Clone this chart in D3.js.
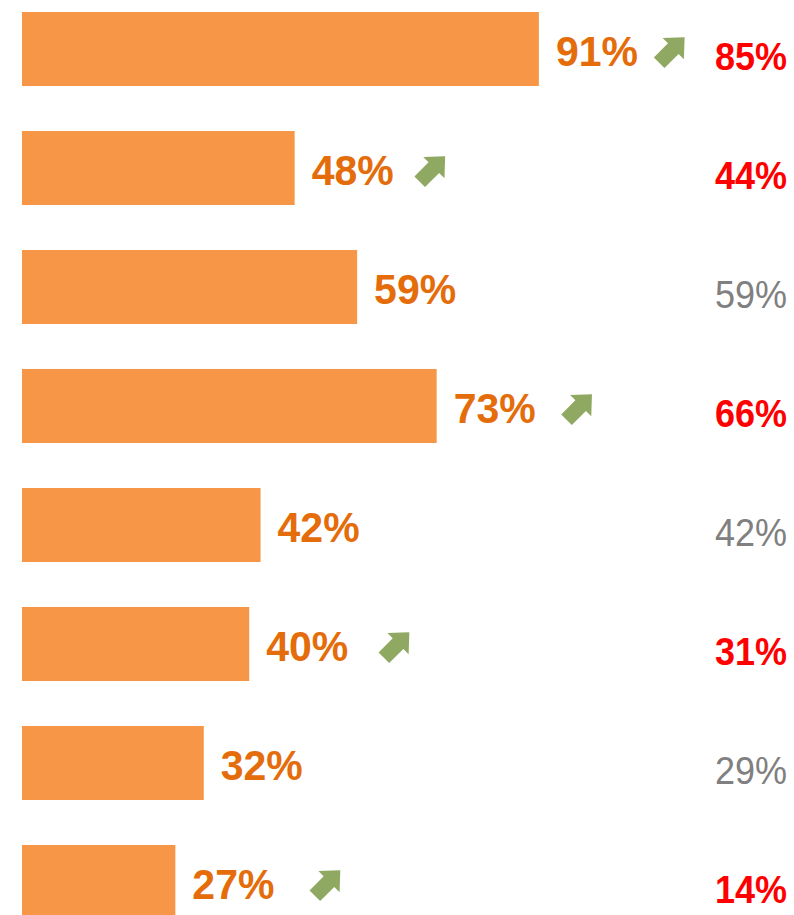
<!DOCTYPE html>
<html>
<head>
<meta charset="utf-8">
<script src="https://cdn.jsdelivr.net/npm/d3@7"></script>
<style>
  body { margin: 0; background: #fff; }
  svg { display: block; font-family: "Liberation Sans", Arial, sans-serif; }
</style>
</head>
<body>
<div id="chart"></div>
<script>
// current values (bars) and previous values (right column)
var values = [91, 48, 59, 73, 42, 40, 32, 27];
var previous = [85, 44, 59, 66, 42, 31, 29, 14];
var improved = [true, true, false, true, false, true, false, true];

var width = 794, height = 915;

var svg = d3.select("#chart").append("svg")
    .attr("width", width)
    .attr("height", height);

var x = d3.scaleLinear()
    .domain([0, 100])
    .range([22, 590]);

var y = d3.scaleBand()
    .domain(d3.range(values.length))
    .range([12, 919])
    .paddingInner(0.378)
    .paddingOuter(0);

var rows = svg.selectAll("g.row")
    .data(values)
  .enter().append("g")
    .attr("class", "row")
    .attr("transform", function(d, i) { return "translate(0," + y(i) + ")"; });

var bh = y.bandwidth();

rows.append("rect")
    .attr("x", x(0))
    .attr("y", 0)
    .attr("width", function(d) { return x(d) - x(0); })
    .attr("height", bh)
    .attr("fill", "#F79646");

rows.append("text")
    .attr("transform", "translate(0," + (bh / 2 + 17) + ") scale(1,1.06)")
    .attr("x", function(d) { return x(d) + 17; })
    .attr("fill", "#E46C0A")
    .attr("font-weight", "bold")
    .attr("font-size", 41)
    .text(function(d) { return d + "%"; });

// green up arrow for improved rows
var arrowPath = "M-18,-7.5 L2,-7.5 L2,-15 L18,0 L2,15 L2,7.5 L-18,7.5 Z";
rows.filter(function(d, i) { return improved[i]; })
  .append("path")
    .attr("d", arrowPath)
    .attr("fill", "#8FA862")
    .attr("transform", function(d, i) {
      return "translate(" + (x(d) + 133 + 4.8 * i) + "," + (bh / 2 + 1) + ") rotate(-45)";
    });

rows.append("text")
    .attr("transform", "translate(0," + (bh / 2 + 21) + ") scale(1,1.06)")
    .attr("x", 787)
    .attr("text-anchor", "end")
    .attr("font-size", 36)
    .attr("font-weight", function(d, i) { return improved[i] ? "bold" : "normal"; })
    .attr("fill", function(d, i) { return improved[i] ? "#FF0000" : "#808080"; })
    .text(function(d, i) { return previous[i] + "%"; });
</script>
</body>
</html>
